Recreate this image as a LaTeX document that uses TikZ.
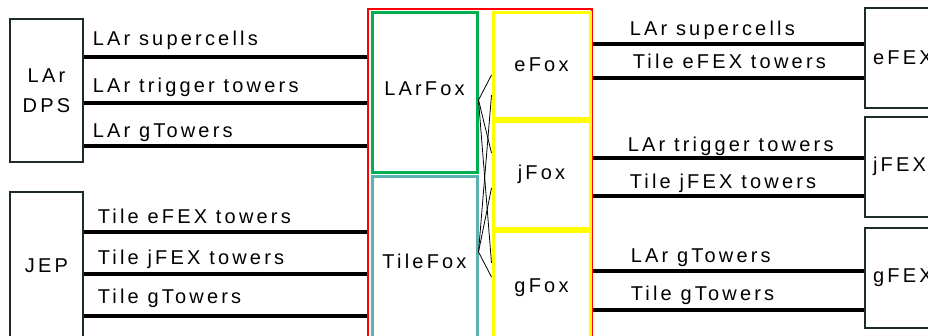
\documentclass[tikz,border=0pt]{standalone}
\usepackage{fontspec}
\setmainfont{Liberation Sans}[LetterSpace=16]
\usetikzlibrary{positioning, calc}
\definecolor{boxline}{RGB}{30,45,35}
\definecolor{foxgreen}{RGB}{0,176,80}
\definecolor{foxteal}{RGB}{90,180,175}
\definecolor{foxyellow}{RGB}{255,255,0}
\tikzset{
  unit/.style={rectangle, draw=boxline, line width=2pt, align=center},
  fexunit/.style={unit, align=left, text width=64pt, inner xsep=8pt,
                  minimum height=100pt},
  foxbox/.style={rectangle, line width=3pt, align=center, inner sep=0pt},
  subfox/.style={foxbox, draw=foxyellow, minimum width=97},
  link/.style={line width=3.5pt},
  xlink/.style={line width=0.8pt},
  lbl/.style={anchor=base west, inner sep=0pt},
}

\begin{document}
\begin{tikzpicture}[x=1pt, y=-1pt,
  every node/.style={font=\fontsize{20}{23}\selectfont}]
  \useasboundingbox (0,0) rectangle (928,335);
  \clip (0,0) rectangle (928,335);

  % sources
  \node[unit, minimum width=73, minimum height=143] (dps) at (46.5,90.5) {LAr\\[7pt]DPS};
  \node[unit, minimum width=73, minimum height=154] (jep) at (46.5,269) {\raisebox{7pt}{JEP}};

  % fox crate
  \node[foxbox, draw=red, line width=2pt, minimum width=224, minimum height=337] (crate) at (480,177.5) {};
  \node[foxbox, draw=foxgreen, minimum width=105, minimum height=160] (larfox)  at (424.5,92)  {\raisebox{7pt}{LArFox}};
  \node[foxbox, draw=foxteal,  minimum width=105, minimum height=170] (tilefox) at (424.5,261) {TileFox};
  \node[subfox, minimum height=106] (efox) at (541.5,65)    {eFox};
  \node[subfox, minimum height=107] (jfox) at (541.5,174.5) {jFox};
  \node[subfox, minimum height=115] (gfox) at (541.5,288.5) {\raisebox{6pt}{gFox}};

  % feature extractors
  \node[fexunit] (efex) at (905,58)    {eFEX};
  \node[fexunit] (jfex) at (905,166.5) {\raisebox{-8pt}{jFEX}};
  \node[fexunit] (gfex) at (905,277.5) {gFEX};

  % inputs
  \draw[link] (dps.east |- 0,57)  -- (crate.west |- 0,57)  node[lbl, pos=0, xshift=7pt, yshift=12pt] {LAr supercells};
  \draw[link] (dps.east |- 0,103) -- (crate.west |- 0,103) node[lbl, pos=0, xshift=7pt, yshift=11pt] {LAr trigger towers};
  \draw[link] (dps.east |- 0,146) -- (crate.west |- 0,146) node[lbl, pos=0, xshift=7pt, yshift=9pt]  {LAr gTowers};
  \draw[link] (jep.east |- 0,232) -- (crate.west |- 0,232) node[lbl, pos=0, xshift=12pt, yshift=9pt]  {Tile eFEX towers};
  \draw[link] (jep.east |- 0,274) -- (crate.west |- 0,274) node[lbl, pos=0, xshift=12pt, yshift=10pt] {Tile jFEX towers};
  \draw[link] (jep.east |- 0,316) -- (crate.west |- 0,316) node[lbl, pos=0, xshift=12pt, yshift=13pt] {Tile gTowers};

  % fan-out between fox boards
  \coordinate (lout) at (larfox.east |- 0,100);
  \coordinate (tout) at (tilefox.east |- 0,252);
  \draw[xlink] (lout) -- (efox.west |- 0,75);
  \draw[xlink] (lout) -- (jfox.west |- 0,153);
  \draw[xlink] (lout) -- (gfox.west |- 0,263);
  \draw[xlink] (tout) -- (efox.west |- 0,95);
  \draw[xlink] (tout) -- (jfox.west |- 0,188);
  \draw[xlink] (tout) -- (gfox.west |- 0,277);

  % outputs
  \draw[link] (crate.east |- 0,44)  -- (efex.west |- 0,44)  node[lbl, pos=0, xshift=35pt, yshift=9pt]  {LAr supercells};
  \draw[link] (crate.east |- 0,78)  -- (efex.west |- 0,78)  node[lbl, pos=0, xshift=38pt, yshift=10pt] {Tile eFEX towers};
  \draw[link] (crate.east |- 0,158) -- (jfex.west |- 0,158) node[lbl, pos=0, xshift=33pt, yshift=7pt]  {LAr trigger towers};
  \draw[link] (crate.east |- 0,196) -- (jfex.west |- 0,196) node[lbl, pos=0, xshift=35pt, yshift=8pt]  {Tile jFEX towers};
  \draw[link] (crate.east |- 0,271) -- (gfex.west |- 0,271) node[lbl, pos=0, xshift=36pt, yshift=9pt]  {LAr gTowers};
  \draw[link] (crate.east |- 0,310) -- (gfex.west |- 0,310) node[lbl, pos=0, xshift=36pt, yshift=10pt] {Tile gTowers};
\end{tikzpicture}
\end{document}
